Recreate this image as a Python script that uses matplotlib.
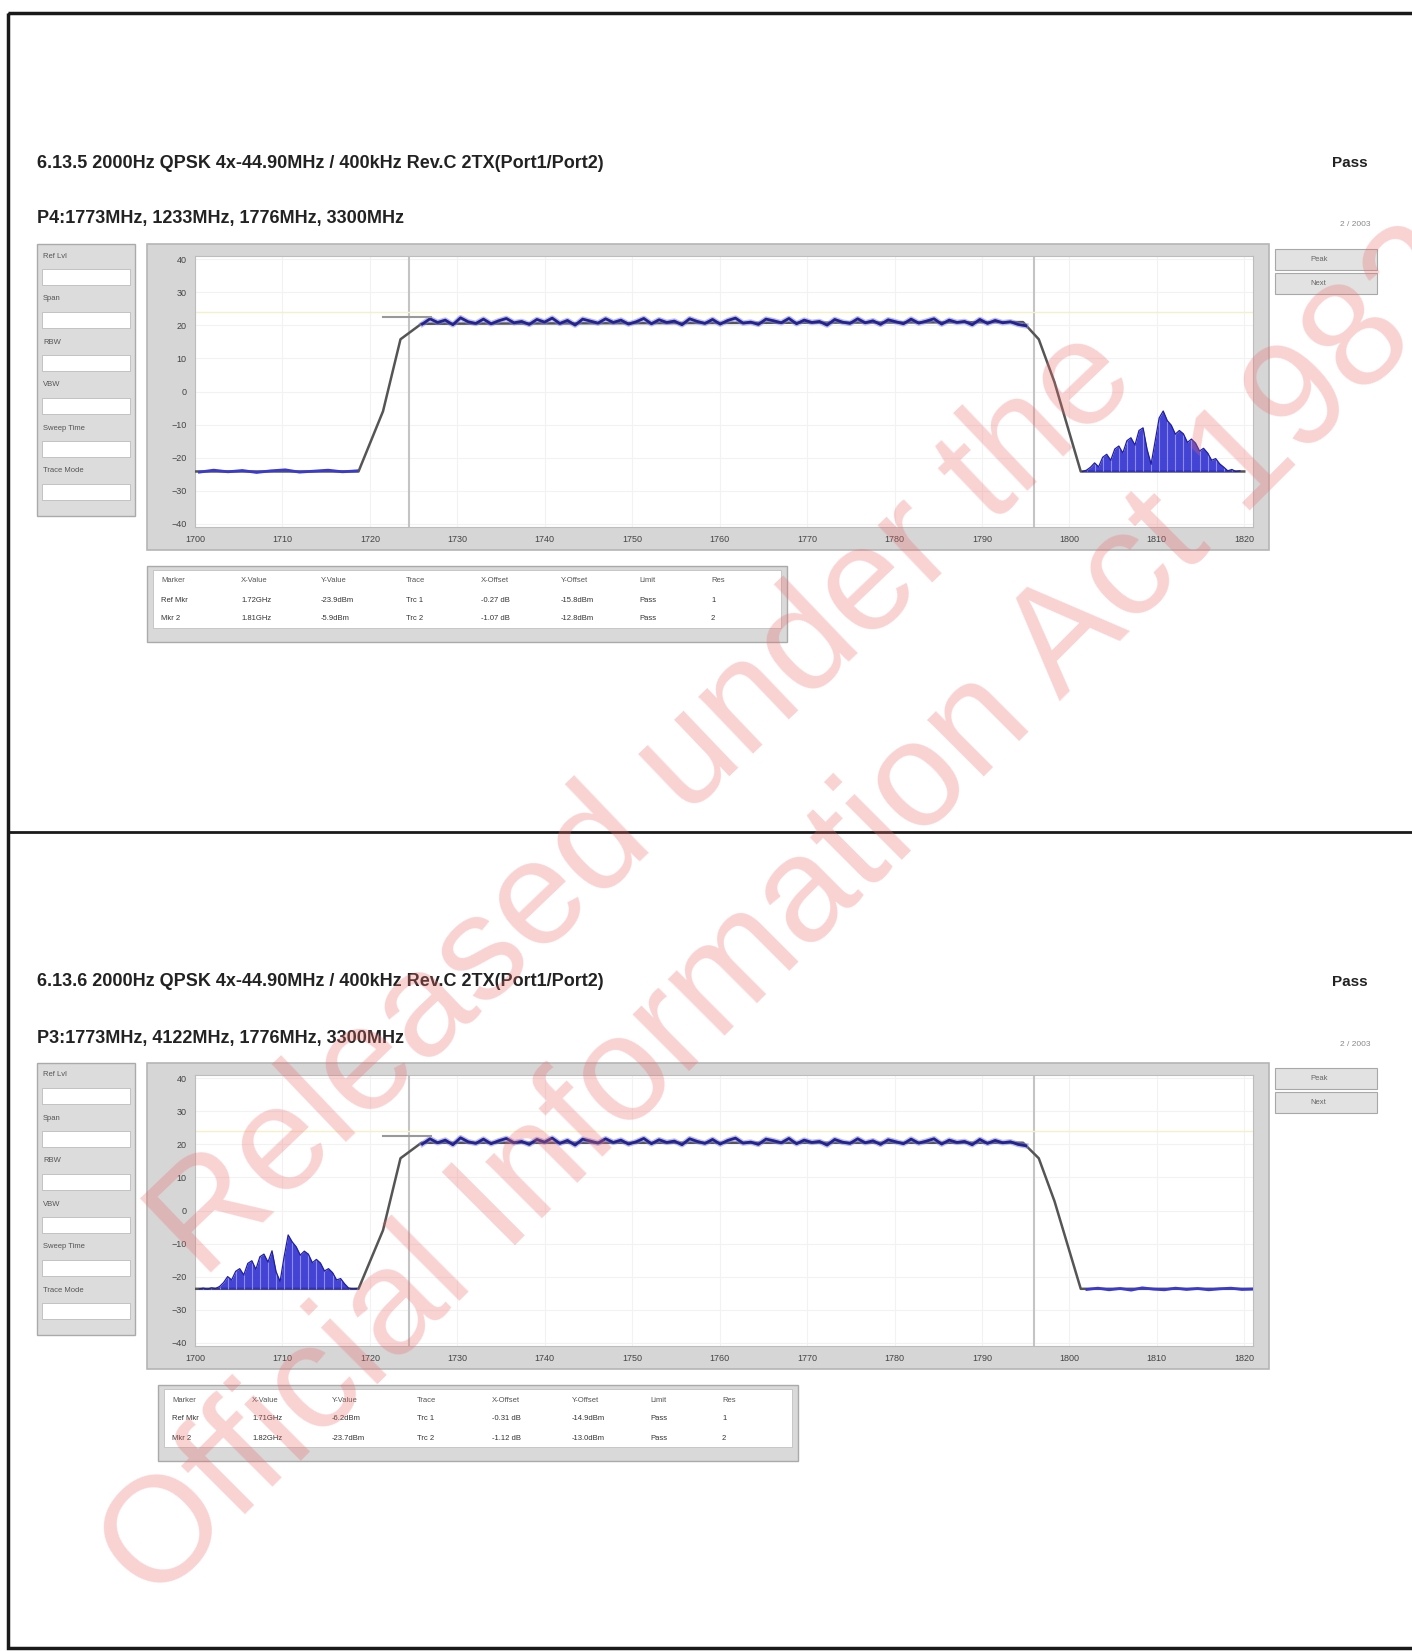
import numpy as np
import matplotlib
matplotlib.use("Agg")
import matplotlib.pyplot as plt
from matplotlib.patches import Rectangle

plt.rcParams['font.family'] = ['Liberation Sans', 'DejaVu Sans']

W, H = 1412, 1651

# ---- data ----
titles = ["6.13.5 2000Hz QPSK 4x-44.90MHz / 400kHz Rev.C 2TX(Port1/Port2)",
          "6.13.6 2000Hz QPSK 4x-44.90MHz / 400kHz Rev.C 2TX(Port1/Port2)"]
subtitles = ["P4:1773MHz, 1233MHz, 1776MHz, 3300MHz",
             "P3:1773MHz, 4122MHz, 1776MHz, 3300MHz"]
verdict = "Pass"

freq_ticks = [1700, 1710, 1720, 1730, 1740, 1750, 1760, 1770, 1780, 1790, 1800, 1810, 1820]
level_ticks = [40, 30, 20, 10, 0, -10, -20, -30, -40]
channel_edges = [1724.5, 1796.0]

# outline (grey trace) for each panel: frequency MHz, level dB
outline_top_f = [1700, 1718.7, 1721.5, 1723.5, 1725.9, 1794.7, 1796.5, 1798.3, 1801.3, 1820]
outline_top_l = [-24.2, -24.2, -6.0, 15.8, 20.5, 21.0, 15.8, 2.8, -24.2, -24.2]
outline_bot_f = [1700, 1718.7, 1721.5, 1723.5, 1725.9, 1794.7, 1796.5, 1798.3, 1801.3, 1821]
outline_bot_l = [-23.7, -23.7, -6.0, 15.8, 20.5, 20.5, 15.8, 2.8, -23.7, -23.7]

# in-band trace (blue), 1726..1795 MHz
band_top = [20.4, 22.0, 20.9, 21.6, 20.2, 22.3, 21.1, 20.6, 21.9, 20.5,
            21.4, 22.1, 20.8, 21.2, 20.3, 21.8, 21.0, 22.2, 20.6, 21.5,
            20.1, 21.9, 21.3, 20.7, 22.0, 20.9, 21.6, 20.4, 21.1, 22.1,
            20.5, 21.7, 20.9, 21.3, 20.2, 22.0, 21.2, 20.6, 21.8, 20.4,
            21.5, 22.2, 20.7, 21.0, 20.3, 21.9, 21.4, 20.8, 22.1, 20.5,
            21.6, 20.9, 21.2, 20.1, 21.8, 21.0, 20.6, 22.0, 20.8, 21.4,
            20.3, 21.7, 21.1, 20.5, 21.9, 20.7, 21.3, 22.0, 20.4, 21.6,
            20.9, 21.2, 20.2, 21.8, 20.6, 21.5, 20.8, 21.1, 20.3, 19.9]
band_bot = [20.1, 21.7, 20.5, 21.3, 19.9, 22.0, 20.8, 20.3, 21.6, 20.2,
            21.1, 21.8, 20.5, 20.9, 20.0, 21.5, 20.7, 21.9, 20.3, 21.2,
            19.8, 21.6, 21.0, 20.4, 21.7, 20.6, 21.3, 20.1, 20.8, 21.8,
            20.2, 21.4, 20.6, 21.0, 19.9, 21.7, 20.9, 20.3, 21.5, 20.1,
            21.2, 21.9, 20.4, 20.7, 20.0, 21.6, 21.1, 20.5, 21.8, 20.2,
            21.3, 20.6, 20.9, 19.8, 21.5, 20.7, 20.3, 21.7, 20.5, 21.1,
            20.0, 21.4, 20.8, 20.2, 21.6, 20.4, 21.0, 21.7, 20.1, 21.3,
            20.6, 20.9, 19.9, 21.5, 20.3, 21.2, 20.5, 20.8, 20.0, 19.6]

# noise floor traces (blue)
floor_top = [-24.4, -23.8, -24.3, -23.9, -24.5, -24.0, -23.7, -24.4, -24.1, -23.8, -24.3, -24.0]
floor_bot = [-23.9, -23.5, -24.0, -23.6, -24.1, -23.4, -23.8, -24.0, -23.5, -23.9, -23.6, -24.0,
             -23.7, -23.5, -23.9, -23.8]

# spurious humps (blue, filled)
hump_top = [-24.2, -23.8, -22.9, -21.6, -22.8, -19.9, -19.0, -20.8, -17.4, -16.5,
            -18.6, -14.9, -14.0, -16.2, -11.8, -11.0, -17.5, -22.0, -15.0, -8.0,
            -5.9, -8.8, -10.2, -12.9, -11.8, -12.8, -15.4, -14.4, -15.6, -18.0,
            -17.2, -18.6, -20.8, -20.3, -21.9, -22.9, -24.0, -23.6, -24.2, -24.0]
hump_bot = [-23.7, -23.5, -23.8, -23.4, -23.6, -23.0, -21.8, -20.0, -21.0, -18.4,
            -17.6, -19.5, -16.0, -15.2, -17.8, -14.0, -13.2, -15.6, -12.2, -18.5,
            -21.5, -14.0, -7.4, -9.5, -11.0, -13.5, -12.3, -13.2, -15.8, -14.8,
            -15.9, -18.3, -17.6, -18.8, -21.0, -20.6, -22.2, -23.5, -23.7, -23.6]

table_header = ["Marker", "X-Value", "Y-Value", "Trace", "X-Offset", "Y-Offset", "Limit", "Res"]
table_rows = [
    [["Ref Mkr", "1.72GHz", "-23.9dBm", "Trc 1", "-0.27 dB", "-15.8dBm", "Pass", "1"],
     ["Mkr 2", "1.81GHz", "-5.9dBm", "Trc 2", "-1.07 dB", "-12.8dBm", "Pass", "2"]],
    [["Ref Mkr", "1.71GHz", "-6.2dBm", "Trc 1", "-0.31 dB", "-14.9dBm", "Pass", "1"],
     ["Mkr 2", "1.82GHz", "-23.7dBm", "Trc 2", "-1.12 dB", "-13.0dBm", "Pass", "2"]],
]
side_labels = ["Ref Lvl", "", "Span", "", "RBW", "", "VBW", "", "Sweep Time", "", "Trace Mode", ""]


def rect(x0, y0, x1, y1):
    return [x0 / W, 1 - y1 / H, (x1 - x0) / W, (y1 - y0) / H]


fig = plt.figure(figsize=(W / 100, H / 100), dpi=100)
bg = fig.add_axes([0, 0, 1, 1], zorder=0)
bg.set_xlim(0, W)
bg.set_ylim(H, 0)
bg.axis('off')

# page borders
bg.add_patch(Rectangle((8, 13), W + 20, 1635, fill=False, ec='#1a1a1a', lw=2.5))
bg.plot([8, W], [832, 832], color='#1a1a1a', lw=2)


def draw_panel(k, dy):
    bg.text(37, 163 + dy, titles[k], fontsize=13, fontweight='bold', va='center', color='#222')
    bg.text(1368, 163 + dy, verdict, fontsize=11, fontweight='bold', va='center', ha='right', color='#222')
    bg.text(37, 219 + dy, subtitles[k], fontsize=13, fontweight='bold', va='center', color='#222')
    bg.text(1370, 225 + dy, "2 / 2003", fontsize=6, va='center', ha='right', color='#888')

    # left settings panel
    bg.add_patch(Rectangle((37, 244 + dy), 98, 272, fc='#dcdcdc', ec='#aaaaaa', lw=1))
    for i, lab in enumerate(side_labels):
        yy = 256 + dy + i * 21.5
        if lab:
            bg.text(43, yy, lab, fontsize=5.5, color='#555', va='center')
        else:
            bg.add_patch(Rectangle((42, yy - 8), 88, 16, fc='white', ec='#bbbbbb', lw=0.6))

    # plot frame
    bg.add_patch(Rectangle((147, 244 + dy), 1122, 306, fc='#d6d6d6', ec='#b5b5b5', lw=1.2))
    # right buttons
    for j, lab in enumerate(["Peak", "Next"]):
        bg.add_patch(Rectangle((1275, 249 + dy + j * 24), 102, 21, fc='#e2e2e2', ec='#a8a8a8', lw=0.8))
        bg.text(1310, 259.5 + dy + j * 24, lab, fontsize=5.5, color='#666', va='center')

    # marker table
    tx0, ty0 = (147, 566 + dy) if k == 0 else (158, 566 + dy)
    bg.add_patch(Rectangle((tx0, ty0), 640, 76, fc='#d9d9d9', ec='#aaaaaa', lw=1))
    bg.add_patch(Rectangle((tx0 + 6, ty0 + 4), 628, 58, fc='white', ec='#c0c0c0', lw=0.6))
    col_x = [0, 80, 160, 245, 320, 400, 478, 550]
    for r, row in enumerate([table_header] + table_rows[k]):
        for c, val in enumerate(row):
            bg.text(tx0 + 14 + col_x[c], ty0 + 15 + r * 19, val, fontsize=5.5,
                    color='#333' if r else '#555', va='center')


for k, dy in enumerate([0, 819]):
    draw_panel(k, dy)

panels = [
    dict(dy=0, outline=(outline_top_f, outline_top_l), band=band_top,
         floor=(np.linspace(1700.5, 1718.5, len(floor_top)), floor_top),
         hump=(np.linspace(1801.5, 1819.5, len(hump_top)), hump_top)),
    dict(dy=819, outline=(outline_bot_f, outline_bot_l), band=band_bot,
         floor=(np.linspace(1802, 1821, len(floor_bot)), floor_bot),
         hump=(np.linspace(1700.5, 1718.5, len(hump_bot)), hump_bot)),
]

for p in panels:
    dy = p['dy']
    ax = fig.add_axes(rect(195, 256 + dy, 1253, 527 + dy), zorder=1)
    ax.set_facecolor('white')
    ax.set_xlim(1700, 1821)
    ax.set_ylim(-41, 41)
    ax.set_xticks(freq_ticks)
    ax.set_yticks(level_ticks)
    ax.set_xticklabels([str(f) for f in freq_ticks])
    ax.tick_params(labelsize=6.5, colors='#444', length=0, pad=6)
    ax.grid(True, color='#f2f2f2', lw=0.8)
    for s in ax.spines.values():
        s.set_color('#bdbdbd')
    for e in channel_edges:
        ax.axvline(e, color='#c4c4c4', lw=1.5)
    ax.axhline(24, color='#f6f0c8', lw=1)

    of, ol = p['outline']
    ax.plot(of, ol, color='#555555', lw=1.8, zorder=3)
    bx = np.linspace(1726, 1795, len(p['band']))
    ax.plot(bx, p['band'], color='#8080e0', lw=4.0, alpha=0.5, zorder=4)
    ax.plot(bx, p['band'], color='#23238f', lw=2.0, zorder=4)
    fx, fy = p['floor']
    ax.plot(fx, fy, color='#3a3ad0', lw=2.0, zorder=4)
    hx, hy = p['hump']
    base = min(hy[0], hy[-1])
    ax.fill_between(hx, base, hy, color='#2e2ed0', alpha=0.9, lw=0, zorder=4)
    ax.vlines(hx[1::2], base, hy[1::2], color='#8c8cf0', lw=0.8, zorder=5)
    ax.plot(hx, hy, color='#1f1fa0', lw=0.9, zorder=5)
    ax.plot([1721.5, 1727], [22.5, 22.5], color='#999999', lw=1.5, zorder=5)

# watermark
wm = dict(color=(0.93, 0.42, 0.42), alpha=0.3, rotation_mode='anchor',
          ha='left', va='baseline', zorder=20)
fig.text(202 / W, 1 - 1280 / H, "Released under the", rotation=43.7, fontsize=107, **wm)
fig.text(154 / W, 1 - 1606 / H, "Official Information Act 1982", rotation=45, fontsize=108, **wm)

fig.savefig("out.png", dpi=100, facecolor='white')
